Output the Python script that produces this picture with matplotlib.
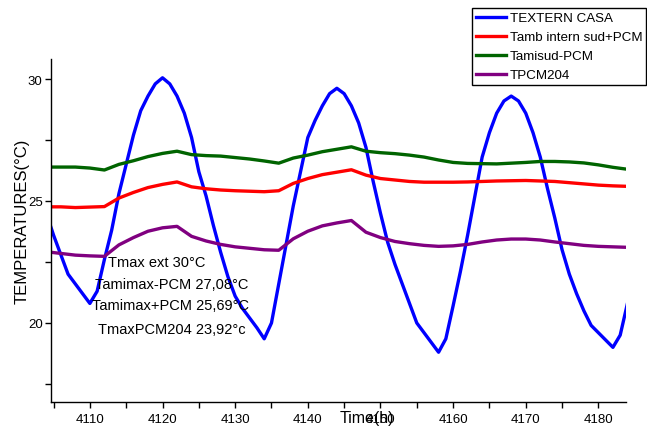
import matplotlib
matplotlib.use("Agg")
import matplotlib.pyplot as plt
import numpy as np
from matplotlib.ticker import MultipleLocator

plt.rcParams['font.family'] = ['Liberation Sans', 'DejaVu Sans']

# Blue: hourly
t_ext = list(range(4104, 4185))
T_ext = [24.5, 23.6, 22.8, 22.0, 21.6, 21.2, 20.8, 21.3, 22.6, 23.8,
         25.3, 26.5, 27.7, 28.7, 29.3, 29.8, 30.05, 29.8, 29.3, 28.6,
         27.6, 26.2, 25.2, 24.0, 22.9, 21.9, 21.1, 20.6, 20.2, 19.8,
         19.35, 20.0, 21.6, 23.2, 24.8, 26.2, 27.6, 28.3, 28.9, 29.4,
         29.62, 29.4, 28.9, 28.2, 27.2, 25.8, 24.5, 23.3, 22.4, 21.6,
         20.8, 20.0, 19.6, 19.2, 18.8, 19.35, 20.7, 22.1, 23.6, 25.2,
         26.8, 27.8, 28.6, 29.1, 29.3, 29.1, 28.6, 27.8, 26.8, 25.5,
         24.3, 23.0, 22.0, 21.2, 20.5, 19.9, 19.6, 19.3, 19.0, 19.5,
         20.8]

# Slow series: every 2 h
t_in = list(range(4104, 4185, 2))
T_red = [24.76, 24.76, 24.73, 24.75, 24.77, 25.12, 25.35, 25.55, 25.68, 25.78,
         25.58, 25.50, 25.45, 25.42, 25.40, 25.38, 25.42, 25.72, 25.92, 26.08,
         26.18, 26.28, 26.06, 25.92, 25.86, 25.80, 25.77, 25.77, 25.77, 25.78,
         25.80, 25.82, 25.83, 25.84, 25.82, 25.80, 25.75, 25.70, 25.65, 25.62,
         25.60]
T_green = [26.39, 26.39, 26.39, 26.35, 26.27, 26.50, 26.65, 26.82, 26.95, 27.04,
           26.90, 26.86, 26.84, 26.78, 26.72, 26.64, 26.55, 26.76, 26.88, 27.02,
           27.12, 27.22, 27.04, 26.98, 26.94, 26.88, 26.80, 26.68, 26.58, 26.54,
           26.53, 26.52, 26.55, 26.58, 26.62, 26.62, 26.60, 26.56, 26.48, 26.38,
           26.30]
T_purple = [22.92, 22.85, 22.78, 22.75, 22.73, 23.20, 23.50, 23.76, 23.90, 23.96,
            23.55, 23.36, 23.22, 23.12, 23.06, 23.00, 22.98, 23.45, 23.76, 23.98,
            24.10, 24.20, 23.72, 23.50, 23.34, 23.25, 23.18, 23.14, 23.16, 23.22,
            23.32, 23.40, 23.44, 23.44, 23.40, 23.32, 23.25, 23.18, 23.14, 23.12,
            23.10]

labels = ["TEXTERN CASA", "Tamb intern sud+PCM", "Tamisud-PCM", "TPCM204"]
notes = ["Tmax ext 30°C", "Tamimax-PCM 27,08°C", "Tamimax+PCM 25,69°C", "TmaxPCM204 23,92°c"]

W, H = 647, 431
fig = plt.figure(figsize=(W / 100, H / 100), dpi=100)
ax = fig.add_axes([51 / W, 1 - 403 / H, (626 - 51) / W, (403 - 60) / H])

lw = 2.4
l1, = ax.plot(t_ext, T_ext, color='#0000ff', lw=lw)
l2, = ax.plot(t_in, T_red, color='#ff0000', lw=lw)
l3, = ax.plot(t_in, T_green, color='#006400', lw=lw)
l4, = ax.plot(t_in, T_purple, color='#800080', lw=lw)

ax.set_xlim(4104.65, 4183.8)
ax.set_ylim(16.76, 30.82)
ax.xaxis.set_major_locator(MultipleLocator(10))
ax.xaxis.set_minor_locator(MultipleLocator(5))
ax.yaxis.set_major_locator(MultipleLocator(5))
ax.yaxis.set_minor_locator(MultipleLocator(2.5))
ax.spines['top'].set_visible(False)
ax.spines['right'].set_visible(False)
for s in ('left', 'bottom'):
    ax.spines[s].set_linewidth(1.0)
ax.tick_params(which='both', direction='out', width=1.0, length=4)
ax.tick_params(axis='x', labelsize=9.5, pad=4)
ax.tick_params(axis='y', labelsize=9.5, pad=2)

ax.set_ylabel("TEMPERATURES(°C)", fontsize=12, va='center', ha='center')
ax.yaxis.set_label_coords((22 - 51) / (626 - 51), (403 - 221) / (403 - 60))
ax.set_xlabel("Time(h)", fontsize=11.5, va='center', ha='center')
ax.xaxis.set_label_coords((367 - 51) / (626 - 51), -16 / (403 - 60))

ys = [263, 285, 306, 330]
xs = [157, 172, 170, 172]
for txt, x, y in zip(notes, xs, ys):
    fig.text(x / W, 1 - y / H, txt, fontsize=10.5, ha='center', va='center')

leg = fig.legend([l1, l2, l3, l4], labels, loc='upper left',
                 bbox_to_anchor=(471.7 / W, 1 - 9 / H), fontsize=9.6,
                 frameon=True, fancybox=False, edgecolor='black', framealpha=1,
                 handlelength=2.3, handletextpad=0.25, labelspacing=0.5,
                 borderpad=0.3, borderaxespad=0)
leg.get_frame().set_linewidth(1.0)

fig.savefig("out.png", dpi=100)
